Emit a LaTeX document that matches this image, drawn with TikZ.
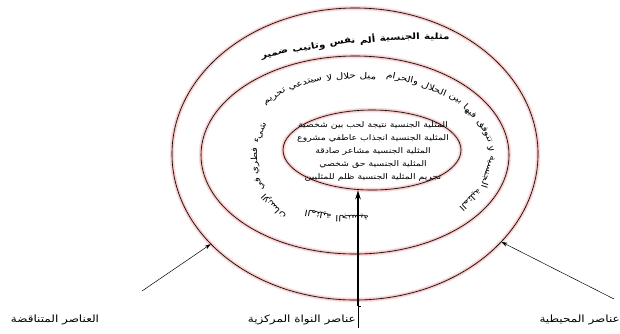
\documentclass[tikz,border=0pt]{standalone}
\usepackage{fontspec}
\TeXXeTstate=1
\newfontfamily\arabicwide[Script=Arabic,FakeStretch=1.2]{DejaVu Sans}
\usetikzlibrary{arrows.meta,shapes.geometric}
\definecolor{glowA}{RGB}{250,222,222}
\definecolor{glowB}{RGB}{242,188,188}
\newcommand\fntm{\arabicwide\fontsize{8.5}{9}\selectfont}
\newcommand\fnto{\arabicwide\bfseries\fontsize{8.6}{9}\selectfont}
\tikzset{
  ring/.style={ellipse, draw=black, line width=0.6pt, inner sep=0pt,
    preaction={draw=glowA, line width=4.5pt},
    preaction={draw=glowB, line width=2.2pt}},
  arcw/.style={inner sep=0pt},
  coretext/.style={font=\arabicwide\fontsize{7.8}{8}\selectfont, inner sep=0pt},
  labeltext/.style={font=\arabicwide\fontsize{10}{11}\selectfont, inner sep=0pt},
  pointer/.style={-{Stealth[length=6pt,width=4pt]}, line width=0.5pt},
  corearrow/.style={-{Stealth[length=9pt,width=5.5pt]}, line width=1.7pt},
}
\newbox\wbox
% measure words outside the picture: #1 font key, #2 words
\newcommand\measurewords[2]{%
  \foreach \wrd in {#2}{%
    \setbox\wbox=\hbox{\csname fnt#1\endcsname\beginR\wrd\endR}%
    \expandafter\xdef\csname ww@#1@\wrd\endcsname{\the\wd\wbox}%
  }}
% #1 prefix, #2 font key, #3 cx, #4 cy, #5 a, #6 b, #7 start angle, #8 gap, #9 words
\newcommand\arcrun[9]{%
  \xdef\curang{#7}%
  \foreach \wrd [count=\k] in {#9}{%
    \edef\wwraw{\csname ww@#2@\wrd\endcsname}%
    \pgfmathsetmacro\ww{\wwraw}%
    \pgfmathsetmacro\Lp{sqrt(((#5)/100*sin(\curang))^2+((#6)/100*cos(\curang))^2)*100*pi/180}%
    \pgfmathsetmacro\cang{\curang+0.5*\ww/\Lp}%
    \pgfmathsetmacro\Lc{sqrt(((#5)/100*sin(\cang))^2+((#6)/100*cos(\cang))^2)*100*pi/180}%
    \pgfmathsetmacro\cang{\curang+0.5*\ww/\Lc}%
    \pgfmathsetmacro\rotang{atan2(-(#6)*cos(\cang),(#5)*sin(\cang))}%
    \node[arcw,font=\csname fnt#2\endcsname,rotate=\rotang] (#1\k) at ({#3+(#5)*cos(\cang)},{#4-(#6)*sin(\cang)}) {\beginR\wrd\endR};%
    \pgfmathsetmacro\nxt{\cang+(0.5*\ww+#8)/\Lc}%
    \xdef\curang{\nxt}%
  }}
\begin{document}
\measurewords{o}{مثلية,الجنسية,ألم,نفس,وتانيب,ضمير}%
\measurewords{m}{المثلية,الجنسية,لا,تتوفق,فيها,بين,الحلال,والحرام,ميل,حلال,سيتدعي,تحريم,شيء,فطري,في,الإنسان}%
\begin{tikzpicture}[x=1pt,y=-1pt]
\fill[white] (0,0) rectangle (620,333);
\useasboundingbox (0,0) rectangle (620,333);

% rings
\node[ring, minimum width=366pt, minimum height=292pt] (outer) at (355,154) {};
\node[ring, minimum width=308pt, minimum height=198pt] (middle) at (355,155) {};
\node[ring, minimum width=178pt, minimum height=80pt] (inner) at (372,150) {};

% outer ring text
\arcrun{o}{o}{430}{737}{700}{700}{88.4}{4.5}{مثلية,الجنسية,ألم,نفس,وتانيب,ضمير}

% middle ring text
\arcrun{a}{m}{357}{156}{134}{82}{-40}{4}{المثلية,الجنسية,لا,تتوفق,فيها,بين,الحلال,والحرام}
\arcrun{b}{m}{357}{156}{122}{80}{81}{4}{ميل,حلال,لا,سيتدعي,تحريم}
\arcrun{c}{m}{357}{160}{102}{80}{153}{4}{شيء,فطري,في,الإنسان}
\arcrun{d}{m}{357}{156}{118}{62}{244}{4}{المثلية,الجنسية}

% core text
\node[coretext] (c1) at (373,125) {\beginR المثلية الجنسية نتيجة لحب بين شخصية\endR};
\node[coretext] (c2) at (373,138) {\beginR المثلية الجنسية انجذاب عاطفي مشروع\endR};
\node[coretext] (c3) at (373,151) {\beginR المثلية الجنسية مشاعر صادقة\endR};
\node[coretext] (c4) at (373,164) {\beginR المثلية الجنسية حق شخصي\endR};
\node[coretext] (c5) at (373,177) {\beginR تجريم المثلية الجنسية ظلم للمثليين\endR};

% bottom labels
\node[labeltext] (lblL) at (55,320) {\beginR العناصر المتناقضة\endR};
\node[labeltext, anchor=east] (lblM) at (356,320) {\beginR عناصر النواة المركزية\endR};
\node[labeltext, anchor=east] (lblR) at (620,320) {\beginR عناصر المحيطية\endR};

% connectors
\coordinate (lstart) at (142,291);
\coordinate (rstart) at (614,299);
\coordinate (ctail) at (358,306);
\coordinate (cbot) at (358,328);
\draw[pointer] (lstart) -- (outer.212);
\draw[pointer] (rstart) -- (outer.329);
\draw[corearrow] (ctail) -- (ctail |- inner.south);
\draw[line width=0.6pt] (cbot) -- (ctail) -- ++(3,0);
\end{tikzpicture}
\end{document}
